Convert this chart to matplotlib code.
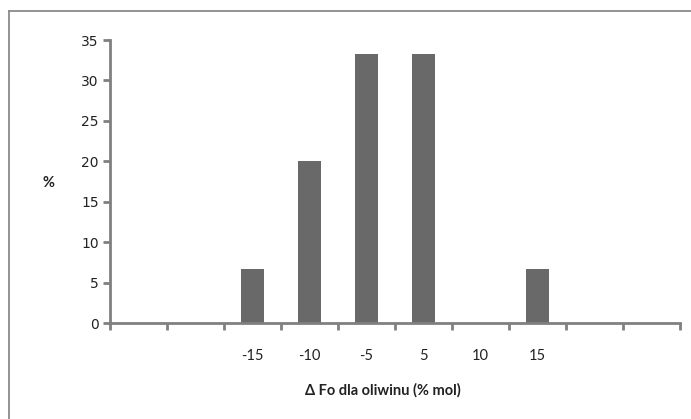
import matplotlib
matplotlib.use("Agg")
import matplotlib.pyplot as plt
from matplotlib.lines import Line2D

categories = ["", "", "-15", "-10", "-5", "5", "10", "15", "", ""]
values = [0, 0, 6.67, 20, 33.33, 33.33, 0, 6.67, 0, 0]
yticks = [0, 5, 10, 15, 20, 25, 30, 35]

W, H = 691, 419
fig = plt.figure(figsize=(W / 100, H / 100), dpi=100)
top_y = 1 - 11 / H
left_x = 8.5 / W
fig.lines.append(Line2D([left_x, 1], [top_y, top_y], transform=fig.transFigure,
                        color="#8a8a8a", linewidth=1.3))
fig.lines.append(Line2D([left_x, left_x], [0, top_y], transform=fig.transFigure,
                        color="#8a8a8a", linewidth=1.3))

ax = fig.add_axes([110 / W, 1 - 323 / H, (680 - 110) / W, (323 - 40) / H])
x = list(range(len(categories)))
ax.bar(x, values, width=0.42, color="#696969", zorder=2)
ax.set_xlim(-0.5, len(categories) - 0.5)
ax.set_ylim(0, 35)
ax.set_yticks(yticks)
ax.set_yticklabels([str(v) for v in yticks], fontsize=10, family="DejaVu Sans", color="#222222")

ax.set_xticks([i - 0.5 for i in range(len(categories) + 1)])
ax.set_xticklabels([])
ax.set_xticks(x, minor=True)
ax.set_xticklabels(categories, minor=True, fontsize=10.5, family="Lato", color="#222222")
ax.tick_params(axis="x", which="minor", length=0, pad=19)
ax.tick_params(axis="x", which="major", length=5, width=2, color="#808080", direction="out")
ax.tick_params(axis="y", length=5, width=2, color="#808080", direction="out", pad=3)

for s in ["top", "right"]:
    ax.spines[s].set_visible(False)
for s in ["left", "bottom"]:
    ax.spines[s].set_color("#808080")
    ax.spines[s].set_linewidth(2)

fig.text(48 / W, 1 - 183 / H, "%", fontsize=10.5, fontweight="bold", family="Lato",
         ha="center", va="center", color="#222222")
fig.text(383 / W, 1 - 390 / H, "Δ Fo dla oliwinu (% mol)", fontsize=10.5, fontweight="bold",
         family="Lato", ha="center", va="center", color="#222222")

fig.savefig("out.png", dpi=100)
